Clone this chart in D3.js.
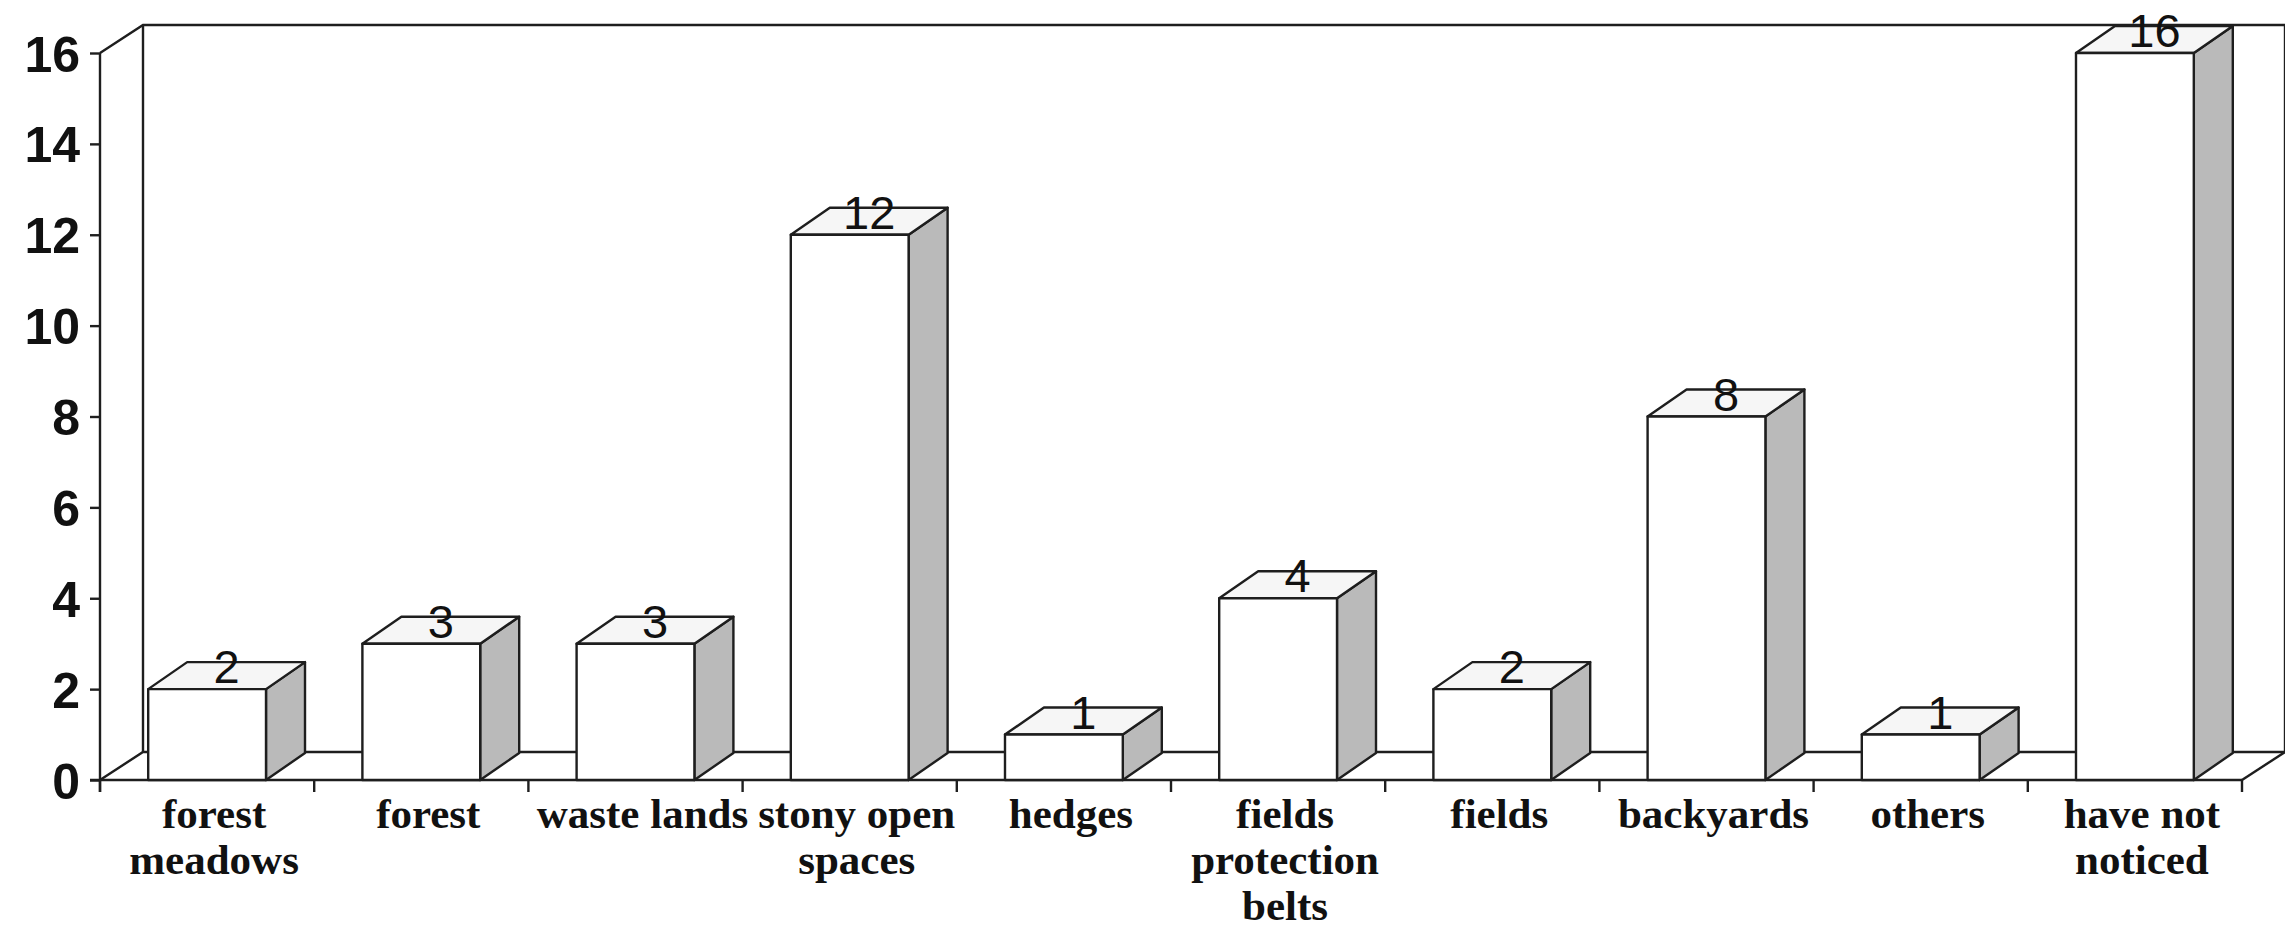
<!DOCTYPE html>
<html>
<head>
<meta charset="utf-8">
<script src="https://cdn.jsdelivr.net/npm/d3@7"></script>
<style>
  html, body { margin: 0; padding: 0; background: #fff; }
  svg { display: block; }
</style>
</head>
<body>
<svg id="chart" width="2285" height="931"></svg>
<script>
// Habitat categories and number of observations
const categories = [
  "forest meadows", "forest", "waste lands", "stony open spaces", "hedges",
  "fields protection belts", "fields", "backyards", "others", "have not noticed"
];
const categoryLines = [
  ["forest", "meadows"], ["forest"], ["waste lands"], ["stony open", "spaces"], ["hedges"],
  ["fields", "protection", "belts"], ["fields"], ["backyards"], ["others"], ["have not", "noticed"]
];
const values = [2, 3, 3, 12, 1, 4, 2, 8, 1, 16];
const yTicks = [0, 2, 4, 6, 8, 10, 12, 14, 16];

const W = 2285, H = 931;
const plotLeft = 100, plotRight = 2242, plotBottom = 780, plotTop = 53;
const wallDx = 43, wallDy = -28;   // depth of the walls/floor
const barDx = 39, barDy = -27;     // depth of each bar
const ink = "#1e1e1e";
const sideFill = "#bababa";
const topFill = "#f6f6f6";
const strokeW = 2.4;

const svg = d3.select("#chart");
svg.append("rect").attr("width", W).attr("height", H).attr("fill", "#fff");

const x = d3.scaleBand().domain(categories).range([plotLeft, plotRight])
  .paddingInner(0.45).paddingOuter(0.225);
const y = d3.scaleLinear().domain([0, 16]).range([plotBottom, plotTop]);
const bw = x.bandwidth();
const step = x.step();

const line = d3.line();
const g = svg.append("g").attr("fill", "none").attr("stroke", ink).attr("stroke-width", strokeW);

// Back wall, left wall and floor outlines
const yTop = y(16), y0 = y(0);
g.append("path").attr("d", line([[plotLeft, yTop], [plotLeft + wallDx, yTop + wallDy], [plotRight + wallDx, yTop + wallDy], [plotRight + wallDx, y0 + wallDy]]));
g.append("path").attr("d", line([[plotLeft + wallDx, yTop + wallDy], [plotLeft + wallDx, y0 + wallDy]]));
g.append("path").attr("d", line([[plotLeft, y0], [plotLeft + wallDx, y0 + wallDy], [plotRight + wallDx, y0 + wallDy]]));
g.append("path").attr("d", line([[plotRight, y0], [plotRight + wallDx, y0 + wallDy]]));

// 3D bars
const bars = svg.append("g").attr("stroke", ink).attr("stroke-width", strokeW).attr("stroke-linejoin", "round");
categories.forEach((c, i) => {
  const x0 = x(c), x1 = x0 + bw, yv = y(values[i]);
  bars.append("path").attr("fill", sideFill)
    .attr("d", line([[x1, yv], [x1 + barDx, yv + barDy], [x1 + barDx, y0 + barDy], [x1, y0]]) + "Z");
  bars.append("path").attr("fill", topFill)
    .attr("d", line([[x0, yv], [x0 + barDx, yv + barDy], [x1 + barDx, yv + barDy], [x1, yv]]) + "Z");
  bars.append("rect").attr("fill", "#fff")
    .attr("x", x0).attr("y", yv).attr("width", bw).attr("height", y0 - yv);
});

// Value labels on the bar tops
svg.append("g").selectAll("text").data(categories).join("text")
  .attr("x", c => x(c) + bw / 2 + barDx / 2)
  .attr("y", (c, i) => y(values[i]) - 6)
  .attr("text-anchor", "middle")
  .attr("font-family", "'Liberation Sans', Arial, sans-serif")
  .attr("font-size", 47)
  .attr("fill", "#111")
  .text((c, i) => values[i]);

// Y axis
const yAxis = svg.append("g").attr("transform", `translate(${plotLeft},0)`)
  .call(d3.axisLeft(y).tickValues(yTicks).tickSize(10).tickSizeOuter(0).tickPadding(10));
yAxis.select(".domain").remove();
yAxis.selectAll(".tick line").attr("stroke", ink).attr("stroke-width", strokeW);
yAxis.selectAll(".tick text")
  .attr("font-family", "'Liberation Sans', Arial, sans-serif")
  .attr("font-weight", "bold").attr("font-size", 50).attr("fill", "#111")
  .attr("dy", "0.36em");
g.append("path").attr("d", line([[plotLeft, yTop], [plotLeft, y0 + 12]]));

// X axis baseline and boundary ticks
g.append("path").attr("d", line([[plotLeft - 10, y0], [plotRight, y0]]));
const bounds = d3.range(categories.length + 1).map(i => plotLeft + i * step);
g.selectAll(".xtick").data(bounds).join("path").attr("class", "xtick")
  .attr("d", d => line([[d, y0], [d, y0 + 12]]));

// Category labels
const lab = svg.append("g")
  .attr("font-family", "'Liberation Serif', 'Times New Roman', serif")
  .attr("font-weight", "bold").attr("font-size", 43).attr("fill", "#111")
  .attr("text-anchor", "middle");
categories.forEach((c, i) => {
  const cx = x(c) + bw / 2 + 7;
  const t = lab.append("text").attr("x", cx).attr("y", 828);
  categoryLines[i].forEach((s, k) => {
    t.append("tspan").attr("x", cx).attr("dy", k === 0 ? 0 : 46).text(s);
  });
});
</script>
</body>
</html>
